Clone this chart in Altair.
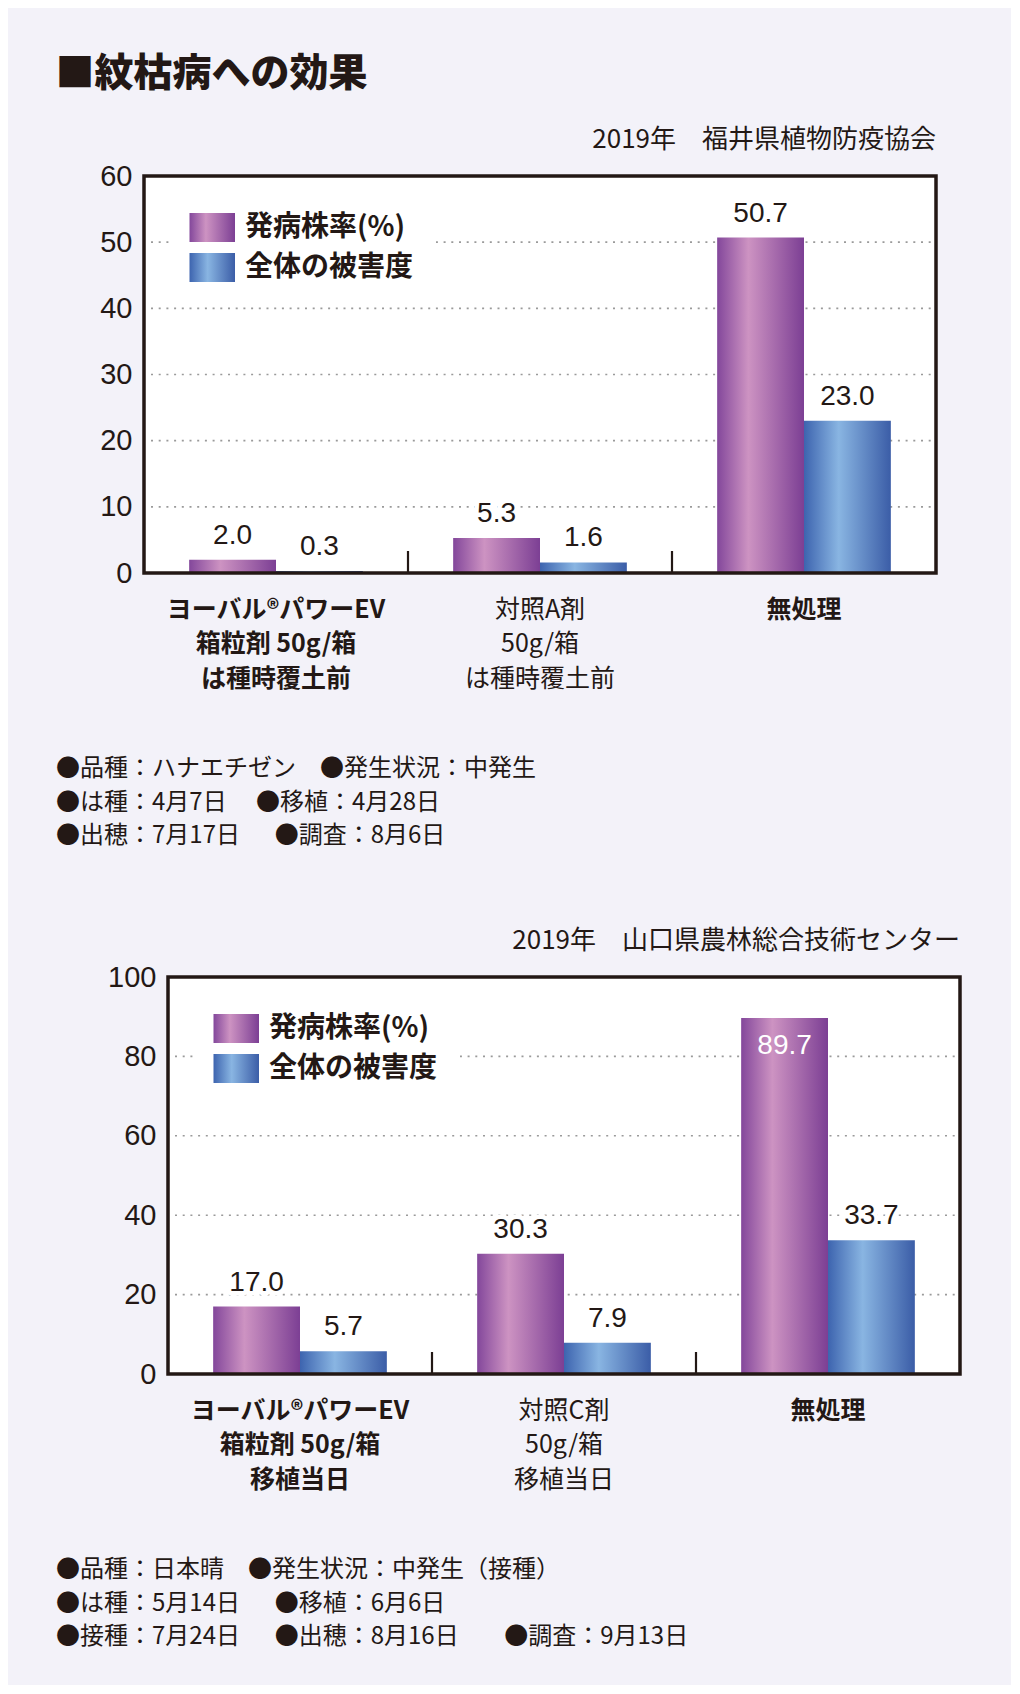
import altair as alt
import pandas as pd

INK = "#231815"
BG = "#F3F2F9"
JP = "Noto Sans CJK JP"
NUM = "Liberation Sans"
SP1 = "\u3000\u00a0"
SP2 = "\u3000\u00a0\u00a0"
SP3 = "\u3000\u00a0\u00a0\u00a0\u00a0"

# ---------------- data ----------------
main_title = "■紋枯病への効果"
series = ["発病株率(%)", "全体の被害度"]

c1_subtitle = "2019年　福井県植物防疫協会"
c1_groups = ["ヨーバル®パワーEV|箱粒剤 50g/箱|は種時覆土前", "対照A剤|50g/箱|は種時覆土前", "無処理"]
c1_incidence = [2.0, 5.3, 50.7]
c1_damage = [0.3, 1.6, 23.0]
c1_yticks = [0, 10, 20, 30, 40, 50, 60]
c1_notes = [
    "●品種：ハナエチゼン　●発生状況：中発生",
    "●は種：4月7日" + SP1 + "●移植：4月28日",
    "●出穂：7月17日" + SP2 + "●調査：8月6日",
]

c2_subtitle = "2019年　山口県農林総合技術センター"
c2_groups = ["ヨーバル®パワーEV|箱粒剤 50g/箱|移植当日", "対照C剤|50g/箱|移植当日", "無処理"]
c2_incidence = [17.0, 30.3, 89.7]
c2_damage = [5.7, 7.9, 33.7]
c2_yticks = [0, 20, 40, 60, 80, 100]
c2_notes = [
    "●品種：日本晴　●発生状況：中発生（接種）",
    "●は種：5月14日" + SP2 + "●移植：6月6日",
    "●接種：7月24日" + SP2 + "●出穂：8月16日" + SP3 + "●調査：9月13日",
]

# ---------------- styles ----------------
def grad(stops):
    return alt.Gradient(
        gradient="linear", x1=0, x2=1, y1=0, y2=0,
        stops=[alt.GradientStop(offset=o, color=c) for o, c in stops],
    )

GRADS = [
    grad([(0, "#83479B"), (0.36, "#CD93C2"), (1, "#7C3F94")]),
    grad([(0, "#3D64AF"), (0.4, "#89B5E2"), (1, "#3B5DA7")]),
]

ONE = pd.DataFrame({"k": [0]})


def panel(groups, inc, dmg, ticks, subtitle, notes, pl, PW=792, H=397):
    """pl: left inset of the framed plot inside the view."""
    W = pl + PW
    ymax = ticks[-1]
    df = pd.DataFrame({
        "group": groups * 2,
        "series": [series[0]] * len(groups) + [series[1]] * len(groups),
        "value": inc + dmg,
    })
    df["inside"] = df["value"] > 0.87 * ymax

    xscale = alt.Scale(domain=groups, range=[pl, W], paddingInner=0, paddingOuter=0)
    xaxis = alt.Axis(
        title=None, domain=False, ticks=False, labelAngle=0,
        labelExpr="split(datum.label, '|')",
        labelFont=JP, labelFontSize=25, labelColor=INK,
        labelLineHeight=34.5, labelPadding=24, labelBaseline="top",
        labelLimit=0, labelOverlap=False,
        labelFontWeight={
            "condition": {"test": "indexof(datum.value, '対照') >= 0", "value": "normal"},
            "value": "bold",
        },
    )
    x = alt.X("group:N", scale=xscale, axis=xaxis)
    xo = alt.XOffset("series:N", scale=alt.Scale(domain=series, paddingInner=0, paddingOuter=0.52))
    y = alt.Y(
        "value:Q",
        scale=alt.Scale(domain=[0, ymax], nice=False),
        axis=alt.Axis(
            title=None, values=ticks, domain=False, ticks=False, grid=False,
            labelFont=NUM, labelFontSize=29, labelColor=INK, labelPadding=12,
            offset=-pl,
        ),
    )

    layers = []
    # white plot background
    layers.append(alt.Chart(ONE).mark_rect(color="white").encode(
        x=alt.value(pl), x2=alt.value(W), y=alt.value(0), y2=alt.value(H)))
    # dotted grid
    gdf = pd.DataFrame({"value": ticks[1:-1]})
    layers.append(alt.Chart(gdf).mark_rule(color="#9a9a9a", strokeWidth=1.6, strokeDash=[2, 5.7]).encode(
        y=y, x=alt.value(pl + 7), x2=alt.value(W - 4)))
    # bars
    for s, g in zip(series, GRADS):
        layers.append(
            alt.Chart(df).transform_filter(alt.datum.series == s)
            .mark_bar(color=g).encode(x=x, xOffset=xo, y=y)
        )
    # group separators
    tdf = pd.DataFrame({"group": groups[1:]})
    layers.append(
        alt.Chart(tdf).mark_rule(color=INK, strokeWidth=2.2).encode(
            x=alt.X("group:N", bandPosition=0, scale=xscale, axis=xaxis),
            y=alt.value(H), y2=alt.value(H - 22),
        )
    )
    # value labels
    txt = alt.Text("value:Q", format=".1f")
    out = alt.Chart(df).transform_filter("!datum.inside")
    layers.append(out.mark_text(font=NUM, fontSize=28, baseline="alphabetic", dy=-16,
                                color="white", stroke="white", strokeWidth=9, strokeJoin="round")
                  .encode(x=x, xOffset=xo, y=y, text=txt))
    layers.append(out.mark_text(font=NUM, fontSize=28, baseline="alphabetic", dy=-16, color=INK)
                  .encode(x=x, xOffset=xo, y=y, text=txt))
    layers.append(alt.Chart(df).transform_filter("datum.inside")
                  .mark_text(font=NUM, fontSize=28, baseline="alphabetic", dy=36, color="white")
                  .encode(x=x, xOffset=xo, y=y, text=txt))
    # legend
    layers.append(alt.Chart(ONE).mark_rect(color="white").encode(
        x=alt.value(pl + 29), x2=alt.value(pl + 292), y=alt.value(26), y2=alt.value(116)))
    for i, (s, g) in enumerate(zip(series, GRADS)):
        layers.append(alt.Chart(ONE).mark_rect(color=g).encode(
            x=alt.value(pl + 45.5), x2=alt.value(pl + 91),
            y=alt.value(37 + 40 * i), y2=alt.value(66 + 40 * i)))
        layers.append(alt.Chart(ONE).mark_text(
            font=JP, fontSize=28, fontWeight="bold", align="left", baseline="middle", color=INK
        ).encode(x=alt.value(pl + 101), y=alt.value(51.5 + 40 * i), text=alt.value(s)))
    # frame
    layers.append(alt.Chart(ONE).mark_rect(filled=False, color=INK, strokeWidth=3.5).encode(
        x=alt.value(pl), x2=alt.value(W), y=alt.value(0), y2=alt.value(H)))
    # subtitle
    layers.append(alt.Chart(ONE).mark_text(
        font=JP, fontSize=26, align="right", baseline="middle", color=INK
    ).encode(x=alt.value(W), y=alt.value(-36), text=alt.value(subtitle)))
    # notes
    for i, line in enumerate(notes):
        layers.append(alt.Chart(ONE).mark_text(
            font=JP, fontSize=24, align="left", baseline="middle", color=INK
        ).encode(x=alt.value(-88), y=alt.value(H + 196 + 33.5 * i), text=alt.value(line)))

    return alt.layer(*layers).properties(width=W, height=H)


c1 = panel(c1_groups, c1_incidence, c1_damage, c1_yticks, c1_subtitle, c1_notes, 0)
c2 = panel(c2_groups, c2_incidence, c2_damage, c2_yticks, c2_subtitle, c2_notes, 24)

chart = (
    alt.vconcat(c1, c2, spacing=78)
    .properties(
        title=alt.TitleParams(
            text=main_title, anchor="start", font=JP, fontSize=39, fontWeight=900,
            color=INK, offset=33,
        ),
        padding={"left": 47, "top": 46, "right": 48, "bottom": 35},
        background=BG,
    )
    .configure_view(fill="transparent", stroke="transparent")
)

chart.save("out.html", embed_options={"renderer": "svg", "actions": False})
